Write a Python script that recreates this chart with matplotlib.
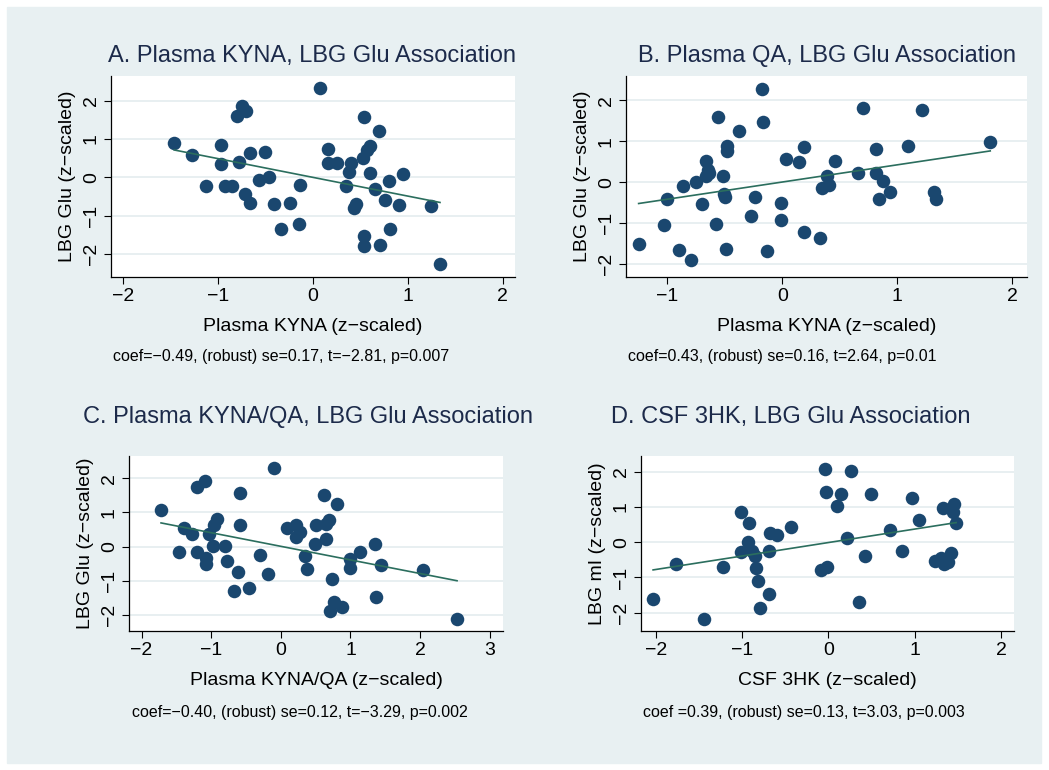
import numpy as np
import matplotlib
matplotlib.use('Agg')
import matplotlib.pyplot as plt
from matplotlib.patches import Rectangle

plt.rcParams['font.family'] = ['Liberation Sans', 'DejaVu Sans']

# A: Plasma KYNA vs LBG Glu
a_x = [-1.46, -1.27, -1.13, -0.97, -0.97, -0.93, -0.85, -0.80, -0.75, -0.70, -0.78, -0.71,
       -0.66, -0.66, -0.57, -0.50, -0.46, -0.41, -0.34, -0.24, -0.14, -0.15, 0.08, 0.16,
       0.16, 0.25, 0.35, 0.38, 0.40, 0.43, 0.46, 0.53, 0.57, 0.60, 0.54, 0.70, 0.60, 0.66,
       0.76, 0.80, 0.81, 0.54, 0.54, 0.71, 0.91, 0.95, 1.24, 1.34]
a_y = [0.90, 0.57, -0.24, 0.83, 0.34, -0.24, -0.23, 1.61, 1.87, 1.74, 0.39, -0.43,
       -0.67, 0.63, -0.07, 0.66, 0.00, -0.70, -1.34, -0.67, -0.19, -1.22, 2.32, 0.73,
       0.36, 0.36, -0.24, 0.15, 0.37, -0.81, -0.70, 0.51, 0.70, 0.82, 1.56, 1.20, 0.12, -0.30,
       -0.59, -0.10, -1.36, -1.52, -1.80, -1.77, -0.72, 0.08, -0.75, -2.26]

# B: Plasma QA vs LBG Glu
b_x = [-1.25, -1.00, -1.03, -0.90, -0.86, -0.79, -0.75, -0.70, -0.66, -0.65, -0.64, -0.66,
       -0.56, -0.58, -0.52, -0.51, -0.50, -0.49, -0.48, -0.48, -0.38, -0.27, -0.24, -0.18,
       -0.17, -0.13, -0.01, -0.01, 0.03, 0.15, 0.19, 0.19, 0.33, 0.35, 0.39, 0.41, 0.46,
       0.66, 0.70, 0.82, 0.82, 0.84, 0.88, 0.94, 1.09, 1.22, 1.32, 1.34, 1.81]
b_y = [-1.50, -0.41, -1.05, -1.66, -0.08, -1.90, 0.01, -0.53, 0.53, 0.29, 0.23, 0.15,
       1.59, -1.03, 0.15, -0.29, -0.37, -1.63, 0.89, 0.77, 1.24, -0.82, -0.36, 2.28,
       1.46, -1.67, -0.50, -0.91, 0.56, 0.49, 0.85, -1.22, -1.37, -0.15, 0.16, -0.07, 0.51,
       0.23, 1.80, 0.82, 0.23, -0.41, 0.02, -0.24, 0.89, 1.75, -0.24, -0.41, 0.98]

# C: Plasma KYNA/QA vs LBG Glu
c_x = [-1.72, -1.46, -1.39, -1.27, -1.20, -1.20, -1.09, -1.08, -1.07, -1.03, -0.97, -0.96,
       -0.91, -0.80, -0.77, -0.67, -0.61, -0.58, -0.58, -0.45, -0.30, -0.18, -0.10, 0.09,
       0.22, 0.22, 0.28, 0.34, 0.38, 0.49, 0.50, 0.62, 0.65, 0.69, 0.65, 0.71, 0.74, 0.77,
       0.81, 0.88, 1.00, 1.00, 1.13, 1.35, 1.37, 1.44, 2.04, 2.53]
c_y = [1.06, -0.15, 0.54, 0.37, -0.15, 1.73, 1.92, -0.32, -0.51, 0.37, 0.03, 0.63,
       0.82, 0.03, -0.41, -1.31, -0.74, 1.58, 0.62, -1.21, -0.24, -0.80, 2.29, 0.55,
       0.62, 0.28, 0.43, -0.29, -0.65, 0.07, 0.62, 1.51, 0.67, 0.79, 0.22, -1.88, -0.95, -1.61,
       1.26, -1.76, -0.37, -0.63, -0.15, 0.09, -1.47, -0.55, -0.68, -2.11]

# D: CSF 3HK vs LBG mI
d_x = [-2.03, -1.76, -1.44, -1.22, -1.01, -1.01, -0.93, -0.92, -0.89, -0.85, -0.84, -0.81,
       -0.79, -0.69, -0.69, -0.68, -0.60, -0.43, -0.09, -0.02, -0.04, -0.03, 0.10, 0.15,
       0.22, 0.26, 0.35, 0.42, 0.49, 0.71, 0.85, 0.97, 1.05, 1.24, 1.30, 1.34, 1.33, 1.38,
       1.42, 1.44, 1.45, 1.48]
d_y = [-1.60, -0.62, -2.17, -0.69, -0.27, 0.85, 0.02, 0.55, -0.25, -0.39, -0.73, -1.09,
       -1.88, -0.25, -1.47, 0.27, 0.20, 0.44, -0.80, -0.71, 2.09, 1.43, 1.04, 1.37,
       0.12, 2.01, -1.70, -0.39, 1.36, 0.35, -0.26, 1.27, 0.63, -0.53, -0.44, -0.63, 0.96, -0.56,
       -0.30, 0.85, 1.10, 0.55]

titles = ['A. Plasma KYNA, LBG Glu Association', 'B. Plasma QA, LBG Glu Association',
          'C. Plasma KYNA/QA, LBG Glu Association', 'D. CSF 3HK, LBG Glu Association']
xlabels = ['Plasma KYNA (z\u2212scaled)', 'Plasma KYNA (z\u2212scaled)',
           'Plasma KYNA/QA (z\u2212scaled)', 'CSF 3HK (z\u2212scaled)']
ylabels = ['LBG Glu (z\u2212scaled)', 'LBG Glu (z\u2212scaled)',
           'LBG Glu (z\u2212scaled)', 'LBG mI (z\u2212scaled)']
notes = ['coef=\u22120.49, (robust) se=0.17, t=\u22122.81, p=0.007',
         'coef=0.43, (robust) se=0.16, t=2.64, p=0.01',
         'coef=\u22120.40, (robust) se=0.12, t=\u22123.29, p=0.002',
         'coef =0.39, (robust) se=0.13, t=3.03, p=0.003']
xticks_all = [[-2, -1, 0, 1, 2], [-1, 0, 1, 2], [-2, -1, 0, 1, 2, 3], [-2, -1, 0, 1, 2]]

W, H = 1049, 770
bg = '#e8f0f2'
navy = '#1a476f'
green = '#2b6e5e'
title_col = '#1c2a4a'

fig = plt.figure(figsize=(W / 100, H / 100), dpi=100, facecolor='white')
fig.patches.append(Rectangle((7 / W, 1 - 763 / H), 1034 / W, 756 / H,
                             transform=fig.transFigure, color=bg, zorder=-10))

# pixel boxes: left, right, top, bottom ; data limits
boxes = [(111, 515, 76, 277), (626, 1027, 76, 277), (129, 503, 456, 631), (641, 1014, 456, 631)]
xlims = [(-2.126, 2.13), (-1.36, 2.13), (-2.18, 3.19), (-2.17, 2.15)]
ylims = [(-2.6, 2.64), (-2.31, 2.59), (-2.47, 2.65), (-2.52, 2.45)]
title_pos = [(312, 56), (827, 56), (308, 417), (791, 417)]
note_pos = [(281, 357), (782, 357), (300, 713), (804, 713)]

data = [(a_x, a_y), (b_x, b_y), (c_x, c_y), (d_x, d_y)]

for i in range(4):
    l, r, t, b = boxes[i]
    ax = fig.add_axes([l / W, 1 - b / H, (r - l) / W, (b - t) / H])
    x = np.array(data[i][0])
    y = np.array(data[i][1])
    for yy in [-2, -1, 0, 1, 2]:
        ax.axhline(yy, color='#e6eef0', lw=1.3, zorder=1)
    ax.scatter(x, y, s=95, color=navy, zorder=3, linewidths=0)
    k, c0 = np.polyfit(x, y, 1)
    xs = np.array([x.min(), x.max()])
    ax.plot(xs, k * xs + c0, color=green, lw=1.2, zorder=4)
    ax.set_xlim(*xlims[i])
    ax.set_ylim(*ylims[i])
    ax.set_xticks(xticks_all[i])
    ax.set_yticks([-2, -1, 0, 1, 2])
    ax.set_xticklabels([str(v).replace('-', '\u2212') for v in xticks_all[i]])
    ax.set_yticklabels([str(v).replace('-', '\u2212') for v in [-2, -1, 0, 1, 2]],
                       rotation=90, va='center')
    ax.tick_params(direction='out', length=5, width=0.8, labelsize=14, colors='black', pad=3)
    for s in ['top', 'right']:
        ax.spines[s].set_visible(False)
    for s in ['left', 'bottom']:
        ax.spines[s].set_linewidth(0.9)
    ax.set_ylabel(ylabels[i], fontsize=14, labelpad=5)
    ax.set_xlabel(xlabels[i], fontsize=14, labelpad=9)
    tx, ty = title_pos[i]
    fig.text(tx / W, 1 - ty / H, titles[i], fontsize=17, color=title_col,
             ha='center', va='center')
    nx, ny = note_pos[i]
    fig.text(nx / W, 1 - ny / H, notes[i], fontsize=11.5, ha='center', va='center')

fig.savefig('out.png', dpi=100)
